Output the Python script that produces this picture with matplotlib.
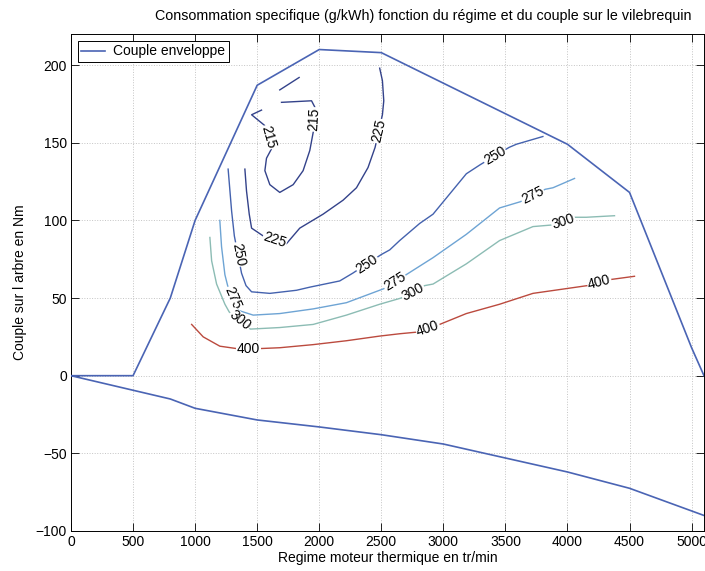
import numpy as np
import matplotlib
matplotlib.use("Agg")
import matplotlib.pyplot as plt

# ---------------------------------------------------------------- data
# enveloppe de couple (tr/min, Nm)
env_haut_rpm = [0, 500, 800, 1000, 1500, 2000, 2500, 4000, 4500, 5000, 5100]
env_haut_cpl = [0, 0, 50, 100, 187, 210, 208, 149, 118, 18, 0]
env_bas_rpm = [0, 800, 1000, 1500, 2000, 2500, 3000, 3500, 4000, 4500, 5100]
env_bas_cpl = [0, -15, -21, -28.5, -33, -38, -44, -53, -62, -72.5, -90]

# iso-consommation (g/kWh)
iso215_rpm = [1535, 1455, 1562, 1615, 1575, 1562, 1602, 1682, 1790, 1870, 1924, 1952, 1964, 1938, 1696]
iso215_cpl = [171, 168, 161, 146, 140, 132, 123, 118, 123, 132, 145, 157, 173, 177, 176]
iso215b_rpm = [1682, 1760, 1838]
iso215b_cpl = [184, 188, 192]
iso225_rpm = [2487, 2509, 2520, 2509, 2450, 2393, 2300, 2192, 2031, 1843, 1736, 1548, 1455, 1436, 1414, 1401]
iso225_cpl = [198, 190, 177, 168, 147, 134, 121, 113, 104, 95, 85, 90, 95, 104, 119, 133]
iso250_rpm = [1266, 1294, 1316, 1374, 1410, 1455, 1602, 1817, 1924, 2165, 2270, 2500, 2568, 2648,
              2809, 2917, 3051, 3185, 3300, 3530, 3588, 3802]
iso250_cpl = [133, 106, 90, 66, 58, 54, 53, 55, 57, 61, 66, 78, 81, 87, 98, 104, 117, 130, 136, 147, 149, 154]
iso275_rpm = [1199, 1213, 1240, 1262, 1350, 1468, 1682, 1951, 2219, 2520, 2700, 2917, 3185, 3453,
              3620, 3820, 3883, 4057]
iso275_cpl = [100, 83, 65, 58, 42, 39, 40, 43, 47, 56, 65, 76, 91, 108, 112, 120, 121, 127]
iso300_rpm = [1119, 1133, 1173, 1240, 1275, 1445, 1682, 1951, 2219, 2487, 2660, 2850, 2917, 3185,
              3453, 3722, 3870, 4060, 4151, 4379]
iso300_cpl = [89, 74, 59, 46, 41, 30, 31, 33, 39, 46, 50, 58, 59, 72, 87, 96, 97, 102, 102, 103]
iso400_rpm = [972, 1065, 1199, 1330, 1535, 1682, 1951, 2219, 2487, 2648, 2780, 2970, 3185, 3453,
              3722, 4160, 4355, 4540]
iso400_cpl = [33, 25, 19, 17.5, 17.5, 18, 20, 22.5, 25.5, 27, 28, 33, 40, 46, 53, 58, 62, 64]

# positions des etiquettes (tr/min, Nm)
lab215 = [(1588, 153.5), (1958, 165)]
lab225 = [(1642, 87.5), (2480, 157.5)]
lab250 = [(1345, 78), (2385, 72), (3415, 141.5)]
lab275 = [(1306, 50), (2610, 60.5), (3720, 116)]
lab300 = [(1360, 35.5), (2755, 54), (3965, 99.5)]
lab400 = [(1432, 17.5), (2875, 30.5), (4257, 60)]

xticks = np.arange(0, 5001, 500)
yticks = np.arange(-100, 201, 50)

# ---------------------------------------------------------------- style
plt.rcParams['font.family'] = ['Liberation Sans', 'DejaVu Sans']
FS = 10

fig = plt.figure(figsize=(7.05, 5.71), dpi=100)
ax = fig.add_axes([71 / 705, 1 - 531 / 571, 633 / 705, (531 - 34) / 571])
ax.set_xlim(0, 5100)
ax.set_ylim(-100, 220)
ax.set_xticks(xticks)
ax.set_yticks(yticks)
ax.tick_params(direction='in', length=6, width=0.6, top=True, right=True,
               labelsize=FS, pad=3)
for s in ax.spines.values():
    s.set_linewidth(0.7)
ax.grid(True, linestyle=':', color='#c4c4c4', linewidth=0.7)
ax.set_axisbelow(True)

env_col = '#4a64b4'
ax.plot(env_haut_rpm, env_haut_cpl, color=env_col, lw=1.2, label='Couple enveloppe', zorder=3)
ax.plot(env_bas_rpm, env_bas_cpl, color=env_col, lw=1.2, zorder=3)


def label_angle(xs, ys, x0, y0):
    # angle (en pixels) du segment le plus proche de l'etiquette
    pts = ax.transData.transform(np.column_stack([xs, ys]))
    p0 = ax.transData.transform((x0, y0))
    best = None
    for i in range(len(pts) - 1):
        a, b = pts[i], pts[i + 1]
        ab = b - a
        t = np.clip(np.dot(p0 - a, ab) / np.dot(ab, ab), 0, 1)
        d = np.linalg.norm(a + t * ab - p0)
        if best is None or d < best[0]:
            best = (d, ab)
    ang = np.degrees(np.arctan2(best[1][1], best[1][0]))
    if ang > 90:
        ang -= 180
    if ang <= -90:
        ang += 180
    return ang


isos = [
    (215, [(iso215_rpm, iso215_cpl), (iso215b_rpm, iso215b_cpl)], lab215, '#33428a'),
    (225, [(iso225_rpm, iso225_cpl)], lab225, '#33428a'),
    (250, [(iso250_rpm, iso250_cpl)], lab250, '#4462ae'),
    (275, [(iso275_rpm, iso275_cpl)], lab275, '#6ea4d4'),
    (300, [(iso300_rpm, iso300_cpl)], lab300, '#8cbcb4'),
    (400, [(iso400_rpm, iso400_cpl)], lab400, '#bb4a3e'),
]

for level, lines, labs, col in isos:
    for xs, ys in lines:
        ax.plot(xs, ys, color=col, lw=1.0, zorder=2)
    xs, ys = lines[0]
    for x0, y0 in labs:
        ang = label_angle(xs, ys, x0, y0)
        ax.text(x0, y0, str(level), rotation=ang, rotation_mode='anchor',
                ha='center', va='center', fontsize=FS, zorder=4,
                bbox=dict(facecolor='white', edgecolor='none', pad=0.5))

leg = ax.legend(loc='upper left', fontsize=FS, fancybox=False, framealpha=1,
                edgecolor='black', borderpad=0.25, borderaxespad=0.5,
                handlelength=1.7, handletextpad=0.6)
leg.get_frame().set_linewidth(0.7)

ax.set_xlabel('Regime moteur thermique en tr/min', fontsize=FS, labelpad=1)
ax.set_ylabel('Couple sur l arbre en Nm', fontsize=FS)
ax.yaxis.set_label_coords(-0.07, 0.5)
fig.text(423 / 705, 1 - 16 / 571,
         'Consommation specifique (g/kWh) fonction du régime et du couple sur le vilebrequin',
         ha='center', va='center', fontsize=10.3)

fig.savefig('out.png', dpi=100)
